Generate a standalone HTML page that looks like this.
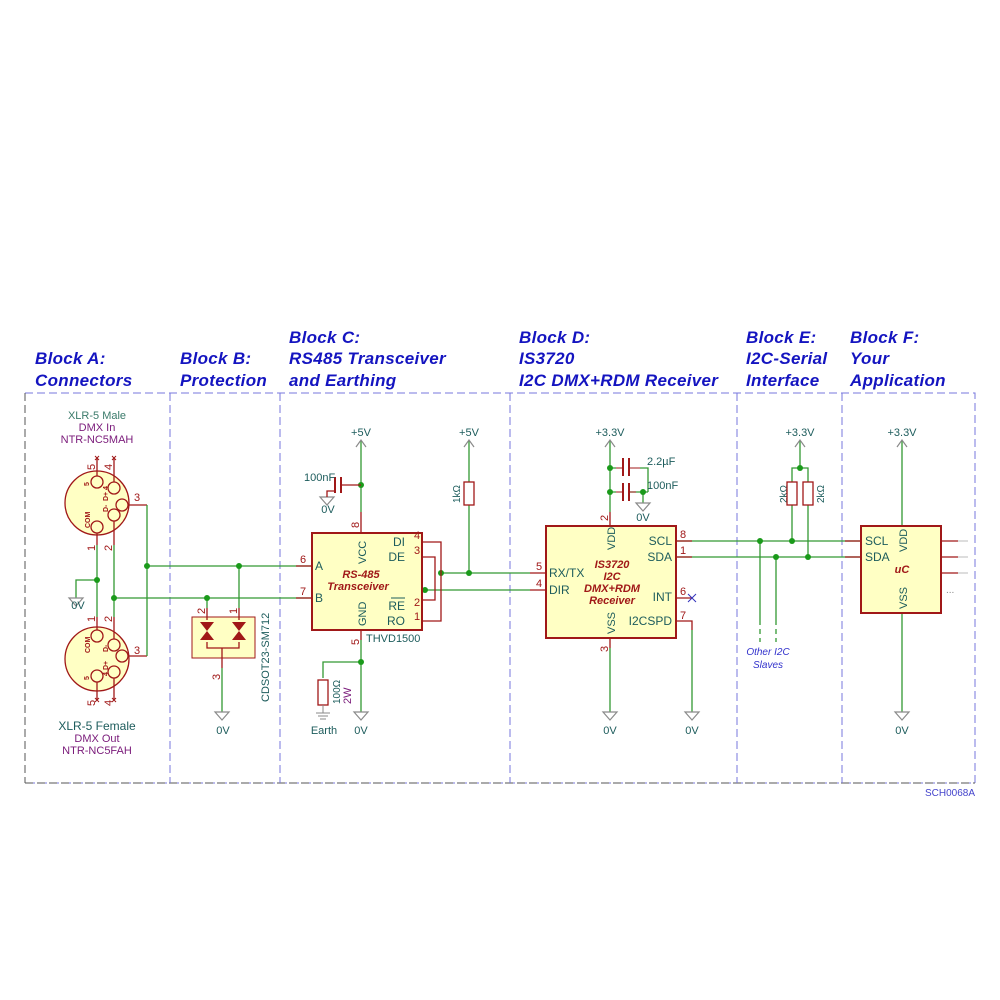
<!DOCTYPE html>
<html><head><meta charset="utf-8"><style>
html,body{margin:0;padding:0;background:#fff}
svg{display:block}
text{font-family:"Liberation Sans",sans-serif}
.t{font-weight:bold;font-style:italic;font-size:17px;fill:#1414c0}
.g{stroke:#339933;stroke-width:1.3;fill:none}
.r{stroke:#a01818;stroke-width:1.3;fill:none}
.bx{fill:#ffffc4;stroke:#a01818;stroke-width:2}
.lbl{font-size:11px;fill:#1d5c5c}
.pin{font-size:11px;fill:#a01818}
.gr{stroke:#8a8a8a;stroke-width:1.2;fill:none}
.dot{fill:#1a9a1a}
.pur{font-size:11px;fill:#7a1a7a}
.nm{font-size:12px;fill:#1d5c5c}
.it{font-weight:bold;font-style:italic;font-size:11px;fill:#a01818}
</style></head><body>
<svg width="1000" height="1000" viewBox="0 0 1000 1000" xmlns="http://www.w3.org/2000/svg">
<!-- titles -->
<g letter-spacing="0.3">
<text class="t" x="35" y="364">Block A:</text><text class="t" x="35" y="386">Connectors</text>
<text class="t" x="180" y="364">Block B:</text><text class="t" x="180" y="386">Protection</text>
<text class="t" x="289" y="343">Block C:</text><text class="t" x="289" y="364">RS485 Transceiver</text><text class="t" x="289" y="386">and Earthing</text>
<text class="t" x="519" y="343">Block D:</text><text class="t" x="519" y="364">IS3720</text><text class="t" x="519" y="386">I2C DMX+RDM Receiver</text>
<text class="t" x="746" y="343">Block E:</text><text class="t" x="746" y="364">I2C-Serial</text><text class="t" x="746" y="386">Interface</text>
<text class="t" x="850" y="343">Block F:</text><text class="t" x="850" y="364">Your</text><text class="t" x="850" y="386">Application</text>
</g>
<!-- frame -->
<g stroke-dasharray="8,4" fill="none" stroke-width="1">
<path d="M25 393 H975 V783 H25" stroke="#7777dd"/>
<path d="M25 393 V783" stroke="#555"/>
<path d="M25 783 H975" stroke="#555"/>
<path d="M170 393V783M280 393V783M510 393V783M737 393V783M842 393V783" stroke="#7777dd"/>
</g>
<text x="975" y="796" font-size="10" fill="#4444cc" text-anchor="end">SCH0068A</text>

<!-- Block A -->
<text x="97" y="419" font-size="11" fill="#3a7a6a" text-anchor="middle">XLR-5 Male</text>
<text x="97" y="431" class="pur" text-anchor="middle">DMX In</text>
<text x="97" y="443" class="pur" text-anchor="middle">NTR-NC5MAH</text>
<text x="97" y="730" class="nm" text-anchor="middle" font-size="11">XLR-5 Female</text>
<text x="97" y="742" class="pur" text-anchor="middle">DMX Out</text>
<text x="97" y="754" class="pur" text-anchor="middle">NTR-NC5FAH</text>
<g>
<circle cx="97" cy="503" r="32" fill="#ffffc4" stroke="#a01818" stroke-width="1.3"/>
<circle cx="97" cy="659" r="32" fill="#ffffc4" stroke="#a01818" stroke-width="1.3"/>
<g class="r">
<circle cx="97" cy="482" r="6"/><circle cx="114" cy="488" r="6"/><circle cx="122" cy="505" r="6"/><circle cx="114" cy="515" r="6"/><circle cx="97" cy="527" r="6"/>
<circle cx="97" cy="636" r="6"/><circle cx="114" cy="645" r="6"/><circle cx="122" cy="656" r="6"/><circle cx="114" cy="672" r="6"/><circle cx="97" cy="676" r="6"/>
<path d="M97 458V476M114 458V482M128 505H147M97 533V545M114 521V545"/>
<path d="M97 617V630M114 617V639M128 656H147M97 682V700M114 678V700"/>
</g>
<g font-size="7" font-weight="bold" fill="#a01818">
<text transform="translate(90,528) rotate(-90)">COM</text>
<text transform="translate(108,512) rotate(-90)">D-</text>
<text transform="translate(108,501) rotate(-90)">D+</text>
<text transform="translate(89,486) rotate(-90)">5</text>
<text transform="translate(108,490) rotate(-90)">4</text>
<text transform="translate(90,653) rotate(-90)">COM</text>
<text transform="translate(108,652) rotate(-90)">D-</text>
<text transform="translate(108,670) rotate(-90)">D+</text>
<text transform="translate(89,680) rotate(-90)">5</text>
<text transform="translate(108,676) rotate(-90)">4</text>
</g>
<g class="pin" font-size="10">
<text transform="translate(95,470) rotate(-90)">5</text><text transform="translate(112,470) rotate(-90)">4</text>
<text x="134" y="501">3</text><text x="134" y="654">3</text>
<text transform="translate(95,551) rotate(-90)">1</text><text transform="translate(112,551) rotate(-90)">2</text>
<text transform="translate(95,622) rotate(-90)">1</text><text transform="translate(112,622) rotate(-90)">2</text>
<text transform="translate(95,706) rotate(-90)">5</text><text transform="translate(112,706) rotate(-90)">4</text>
</g>
<g stroke="#a01818" stroke-width="1"><path d="M95 456l4 4M99 456l-4 4M112 456l4 4M116 456l-4 4M95 698l4 4M99 698l-4 4M112 698l4 4M116 698l-4 4"/></g>
</g>
<g class="g">
<path d="M97 545V617M114 545V617M147 505V656M147 566H312M114 598H312M97 580H76V598"/>
<path d="M207 598V608M239 566V608M222 668V712M361 441V512M361 640V712M361 662H323V678M469 441V482M469 505V573M441 573H530M425 590H530M610 441V512M610 648V712M692 630V712M902 441V526M902 613V712"/>
<path d="M610 468H616M610 492H616M640 468H648V492M630 492H648M643 492V503M800 441V468H792V482M800 468H808V482M792 505V541M808 505V557"/>
<path d="M676 541H861M676 557H861"/>
<path d="M760 541V620M776 557V620"/>
<path d="M760 620V642M776 620V642" stroke-dasharray="5,4"/>
<path d="M958 541H968M958 557H968M958 573H968" stroke="#bbb" stroke-width="1"/>
</g>
<!-- junctions -->
<g class="dot">
<circle cx="147" cy="566" r="3"/><circle cx="97" cy="580" r="3"/><circle cx="114" cy="598" r="3"/><circle cx="207" cy="598" r="3"/><circle cx="239" cy="566" r="3"/>
<circle cx="361" cy="485" r="3"/><circle cx="361" cy="662" r="3"/><circle cx="441" cy="573" r="3"/><circle cx="469" cy="573" r="3"/><circle cx="425" cy="590" r="3"/>
<circle cx="610" cy="468" r="3"/><circle cx="610" cy="492" r="3"/><circle cx="643" cy="492" r="3"/><circle cx="800" cy="468" r="3"/>
<circle cx="760" cy="541" r="3"/><circle cx="792" cy="541" r="3"/><circle cx="776" cy="557" r="3"/><circle cx="808" cy="557" r="3"/>
</g>
<!-- ground symbols -->
<g class="gr">
<path d="M69 598h14l-7 8z"/><path d="M215 712h14l-7 8z"/><path d="M320 497h14l-7 8z"/><path d="M354 712h14l-7 8z"/>
<path d="M603 712h14l-7 8z"/><path d="M685 712h14l-7 8z"/><path d="M636 503h14l-7 8z"/><path d="M895 712h14l-7 8z"/>
<path d="M356 447l5-7 5 7M464 447l5-7 5 7M605 447l5-7 5 7M795 447l5-7 5 7M897 447l5-7 5 7"/>
</g>
<g class="lbl" text-anchor="middle">
<text x="78" y="609">0V</text><text x="223" y="734">0V</text><text x="328" y="513">0V</text><text x="361" y="734">0V</text>
<text x="610" y="734">0V</text><text x="692" y="734">0V</text><text x="643" y="521">0V</text><text x="902" y="734">0V</text>
<text x="361" y="436">+5V</text><text x="469" y="436">+5V</text><text x="610" y="436">+3.3V</text><text x="800" y="436">+3.3V</text><text x="902" y="436">+3.3V</text>
<text x="324" y="734">Earth</text>
</g>
<!-- Block B -->
<rect x="192" y="617" width="63" height="41" fill="#ffffc4" stroke="#a01818" stroke-width="1"/>
<g class="r"><path d="M207 608V620M239 608V620M207 642V648H239V642M222 648V668"/></g>
<g fill="#a01818"><path d="M200 622h14l-7 9zM200 640h14l-7-9zM232 622h14l-7 9zM232 640h14l-7-9z"/></g>
<g class="pin" font-size="10"><text transform="translate(205,614) rotate(-90)">2</text><text transform="translate(237,614) rotate(-90)">1</text><text transform="translate(220,680) rotate(-90)">3</text></g>
<text transform="translate(269,702) rotate(-90)" class="lbl" font-size="11">CDSOT23-SM712</text>
<!-- Block C -->
<g class="r"><path d="M361 512V533M361 630V640M296 566H312M296 598H312M422 542H441V621H422M422 557H435V600H422M340 485H361M327 497V491H335"/></g>
<path d="M335 477V493M341 477V493" stroke="#a01818" stroke-width="2"/>
<rect x="312" y="533" width="110" height="97" class="bx"/>
<rect x="318" y="680" width="10" height="25" fill="#fff" stroke="#a01818" stroke-width="1.3"/>
<path d="M323 705V713M316 713h14M318 716h10M320 719h6" stroke="#888" fill="none"/>
<rect x="464" y="482" width="10" height="23" fill="#fff" stroke="#a01818" stroke-width="1.3"/>
<g class="nm">
<text x="315" y="570">A</text><text x="315" y="602">B</text>
<text transform="translate(366,564) rotate(-90)" font-size="11">VCC</text><text transform="translate(366,626) rotate(-90)" font-size="11">GND</text>
<text x="405" y="546" text-anchor="end">DI</text><text x="405" y="561" text-anchor="end">DE</text><text x="405" y="610" text-anchor="end">RE</text><text x="405" y="625" text-anchor="end">RO</text>
<text x="366" y="642" font-size="11">THVD1500</text>
<text x="304" y="481" font-size="11">100nF</text>
<text transform="translate(460,503) rotate(-90)" font-size="10">1kΩ</text>
<text transform="translate(340,704) rotate(-90)" font-size="10">100Ω</text>
</g>
<path d="M391 598H405" stroke="#1d5c5c"/>
<text transform="translate(351,704) rotate(-90)" class="pur" font-size="10">2W</text>
<text x="361" y="578" class="it" text-anchor="middle">RS-485</text>
<text x="358" y="590" class="it" text-anchor="middle">Transceiver</text>
<g class="pin" font-size="10"><text x="300" y="563">6</text><text x="300" y="595">7</text><text transform="translate(359,528) rotate(-90)">8</text><text transform="translate(359,645) rotate(-90)">5</text>
<text x="414" y="539">4</text><text x="414" y="554">3</text><text x="414" y="606">2</text><text x="414" y="620">1</text></g>
<!-- Block D -->
<g class="r"><path d="M530 573H546M530 590H546M610 512V526M610 638V648M676 541H692M676 557H692M676 598H692M676 621H692V630"/></g>
<path d="M688 594l8 8M696 594l-8 8" stroke="#3333bb"/>
<path d="M623 458V476M629 458V476M623 483V501M629 483V501" stroke="#a01818" stroke-width="2"/>
<path d="M616 468H623M629 468H640M616 492H623M629 492H636" stroke="#a01818"/>
<rect x="546" y="526" width="130" height="112" class="bx"/>
<g class="nm">
<text x="549" y="577">RX/TX</text><text x="549" y="594">DIR</text>
<text transform="translate(615,550) rotate(-90)" font-size="11">VDD</text><text transform="translate(615,634) rotate(-90)" font-size="11">VSS</text>
<text x="672" y="545" text-anchor="end">SCL</text><text x="672" y="561" text-anchor="end">SDA</text><text x="672" y="601" text-anchor="end">INT</text><text x="672" y="625" text-anchor="end">I2CSPD</text>
<text x="647" y="465" font-size="11">2.2µF</text><text x="647" y="489" font-size="11">100nF</text>
<text transform="translate(787,503) rotate(-90)" font-size="10">2kΩ</text><text transform="translate(824,503) rotate(-90)" font-size="10">2kΩ</text>
</g>
<g class="it" text-anchor="middle"><text x="612" y="568">IS3720</text><text x="612" y="580">I2C</text><text x="612" y="592">DMX+RDM</text><text x="612" y="604">Receiver</text></g>
<g class="pin" font-size="10"><text x="536" y="570">5</text><text x="536" y="587">4</text><text transform="translate(608,521) rotate(-90)">2</text><text transform="translate(608,652) rotate(-90)">3</text>
<text x="680" y="538">8</text><text x="680" y="554">1</text><text x="680" y="595">6</text><text x="680" y="619">7</text></g>
<!-- Block E -->
<rect x="787" y="482" width="10" height="23" fill="#fff" stroke="#a01818" stroke-width="1.3"/>
<rect x="803" y="482" width="10" height="23" fill="#fff" stroke="#a01818" stroke-width="1.3"/>
<g font-size="10" font-style="italic" fill="#3333cc" text-anchor="middle"><text x="768" y="655">Other I2C</text><text x="768" y="668">Slaves</text></g>
<!-- Block F -->
<g class="r"><path d="M845 541H861M845 557H861M941 541H958M941 557H958M941 573H958"/></g>
<rect x="861" y="526" width="80" height="87" class="bx"/>
<g class="nm"><text x="865" y="545">SCL</text><text x="865" y="561">SDA</text>
<text transform="translate(907,552) rotate(-90)" font-size="11">VDD</text><text transform="translate(907,609) rotate(-90)" font-size="11">VSS</text></g>
<text x="902" y="573" class="it" text-anchor="middle">uC</text>
<text x="946" y="593" font-size="10" fill="#888">...</text>
</svg>
</body></html>
